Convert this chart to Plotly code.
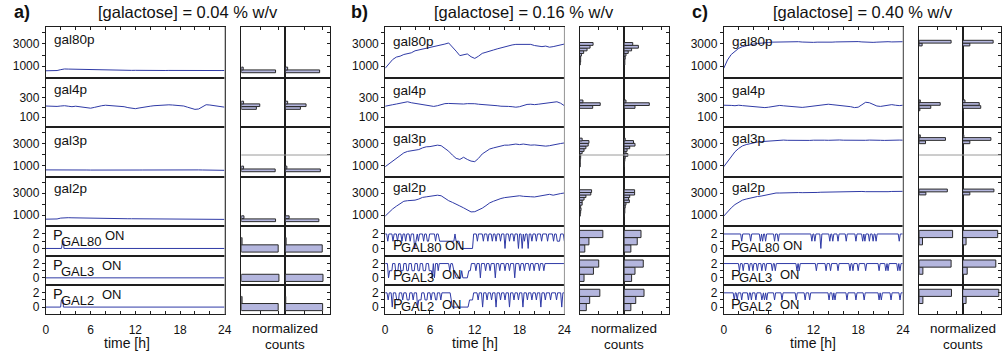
import plotly.graph_objects as go

# ---------------------------------------------------------------- data
# protein traces, sampled every 0.5 h from 0 to 24 h (49 values each)
A_GAL80P = [600, 595, 600, 620, 700, 760, 750, 740, 730, 720,
            715, 710, 700, 695, 690, 680, 675, 670, 660, 655,
            650, 645, 640, 635, 640, 630, 625, 630, 635, 630,
            625, 620, 625, 630, 625, 620, 615, 610, 615, 620,
            615, 610, 605, 600, 605, 610, 615, 620, 625]
A_GAL4P = [212, 210, 205, 208, 212, 215, 210, 205, 210, 206,
           200, 192, 190, 198, 208, 215, 220, 218, 214, 210,
           212, 205, 196, 188, 185, 192, 200, 205, 210, 215,
           218, 220, 222, 224, 222, 220, 218, 212, 200, 188,
           178, 182, 200, 225, 222, 215, 210, 205, 200]
A_GAL3P = [600, 605, 600, 610, 615, 620, 618, 612, 605, 600,
           595, 590, 585, 580, 578, 575, 580, 585, 590, 595,
           600, 602, 598, 595, 590, 588, 590, 595, 600, 605,
           608, 605, 600, 598, 595, 592, 590, 595, 600, 605,
           602, 598, 592, 585, 580, 575, 570, 565, 560]
A_GAL2P = [620, 615, 625, 640, 720, 760, 755, 745, 735, 725,
           720, 715, 705, 700, 690, 685, 680, 680, 675, 670,
           670, 665, 660, 660, 655, 650, 655, 660, 650, 645,
           640, 640, 645, 640, 635, 630, 630, 625, 630, 625,
           620, 615, 610, 605, 600, 600, 595, 600, 600]

B_GAL80P = [820, 1250, 1600, 1820, 1900, 2050, 2150, 2200, 2380, 2450,
            2550, 2650, 2700, 2780, 2850, 2900, 2980, 3080, 2750, 2350,
            1950, 2050, 2100, 1850, 1700, 1900, 2150, 2250, 2380, 2450,
            2550, 2650, 2700, 2780, 2900, 2950, 2950, 2920, 2900, 2950,
            2850, 2800, 2750, 2800, 2700, 2750, 2850, 2900, 2980]
B_GAL4P = [210, 220, 225, 232, 240, 248, 255, 245, 238, 230,
           225, 215, 210, 208, 215, 225, 236, 238, 235, 232,
           230, 232, 236, 238, 235, 230, 228, 222, 220, 218,
           215, 210, 212, 208, 205, 200, 205, 215, 228, 230,
           226, 230, 236, 240, 245, 250, 255, 240, 215]
B_GAL3P = [890, 1150, 1450, 1680, 1950, 2150, 2280, 2350, 2400, 2450,
           2600, 2700, 2720, 2780, 2850, 2800, 2550, 2300, 1950, 1650,
           1550, 1750, 1550, 1400, 1350, 1650, 2050, 2250, 2500, 2600,
           2700, 2780, 2850, 2850, 2900, 2950, 2900, 2950, 2900, 2850,
           2870, 2820, 2780, 2760, 2800, 2880, 2950, 3000, 3050]
B_GAL2P = [900, 1250, 1550, 1800, 2050, 2250, 2300, 2320, 2350, 2450,
           2600, 2650, 2700, 2720, 2800, 2750, 2500, 2300, 2150, 1950,
           1820, 1650, 1480, 1280, 1300, 1450, 1620, 1850, 2100, 2250,
           2400, 2500, 2580, 2620, 2680, 2720, 2750, 2700, 2650, 2660,
           2640, 2700, 2750, 2820, 2880, 2800, 2900, 2950, 3000]

C_GAL80P = [820, 1560, 2050, 2350, 2600, 2750, 2850, 2920, 2980, 3030,
            3080, 3100, 3120, 3150, 3160, 3180, 3190, 3170, 3160, 3180,
            3190, 3160, 3140, 3120, 3130, 3150, 3140, 3130, 3120, 3150,
            3170, 3180, 3200, 3220, 3240, 3230, 3200, 3170, 3140, 3120,
            3130, 3150, 3180, 3200, 3190, 3170, 3180, 3210, 3190]
C_GAL4P = [220, 222, 218, 215, 220, 216, 212, 210, 206, 202,
           198, 196, 200, 205, 215, 218, 214, 210, 205, 200,
           196, 198, 202, 206, 212, 218, 222, 226, 230, 226,
           222, 220, 218, 215, 205, 196, 200, 225, 250, 245,
           228, 212, 208, 215, 222, 226, 220, 216, 220]
C_GAL3P = [890, 1380, 1850, 2250, 2550, 2780, 2900, 3000, 3080, 3130,
           3170, 3200, 3230, 3260, 3280, 3300, 3310, 3290, 3280, 3300,
           3320, 3310, 3290, 3280, 3300, 3320, 3310, 3300, 3290, 3310,
           3330, 3320, 3300, 3290, 3310, 3320, 3300, 3280, 3290, 3310,
           3320, 3300, 3290, 3280, 3300, 3310, 3320, 3310, 3300]
C_GAL2P = [900, 1300, 1650, 1950, 2150, 2350, 2450, 2550, 2620, 2680,
           2720, 2800, 2850, 2950, 3000, 3000, 3020, 3030, 3010, 3020,
           3040, 3030, 3020, 3040, 3060, 3050, 3070, 3080, 3060, 3080,
           3100, 3120, 3140, 3150, 3170, 3180, 3160, 3140, 3120, 3110,
           3130, 3150, 3140, 3130, 3120, 3140, 3160, 3170, 3150]

# promoter states (number of ON promoters), panel a and b as (time, state) vertices
A_PGAL80 = [(0, 0), (2.1, 0), (2.25, 1), (2.4, 1), (2.42, 0), (24, 0)]
A_PGAL3 = [(0, 0), (24, 0)]
A_PGAL2 = [(0, 0), (1.98, 0), (2.08, 1), (2.32, 1), (2.35, 0), (24, 0)]

B_PGAL80 = [(0, 2), (0.2, 2), (0.35, 1), (0.5, 2), (0.9, 2), (1.05, 1), (1.2, 2), (1.5, 2), (1.65, 1), (1.8, 2),
            (2.1, 2), (2.25, 1), (2.4, 2), (2.6, 2), (2.75, 1), (2.9, 2), (3.2, 2), (3.35, 1), (3.5, 2), (3.8, 2),
            (3.95, 0), (4.1, 1), (4.3, 2), (4.45, 1), (4.6, 2), (5.0, 2), (5.15, 1), (5.3, 2), (5.5, 2), (5.65, 1),
            (5.8, 1), (5.95, 2), (6.6, 2), (6.75, 1), (6.9, 2), (7.1, 2), (7.3, 1), (9.2, 1), (9.35, 2), (9.5, 1),
            (9.9, 1), (10.1, 0), (11.7, 0), (11.85, 2), (12.2, 2), (12.35, 1), (12.5, 2), (13.0, 2), (13.15, 1),
            (13.3, 2), (13.6, 2), (13.75, 1), (13.9, 2), (14.2, 2), (14.35, 1), (14.5, 2), (14.7, 2), (14.85, 1),
            (15.0, 2), (15.3, 2), (15.45, 1), (15.6, 2), (15.9, 2), (16.05, 0), (16.2, 2), (16.5, 2), (16.65, 1),
            (16.8, 2), (17.1, 2), (17.25, 1), (17.4, 2), (17.7, 2), (17.85, 0), (18.0, 2), (18.2, 2), (18.35, 0),
            (18.5, 2), (18.65, 1), (18.8, 2), (19.0, 2), (19.15, 0), (19.3, 2), (19.5, 2), (19.65, 1), (19.8, 2),
            (20.1, 2), (20.25, 1), (20.4, 2), (20.8, 2), (20.95, 1), (21.1, 2), (21.6, 2), (21.75, 1), (21.9, 2),
            (22.4, 2), (22.55, 1), (22.7, 2), (22.9, 2), (23.05, 1), (23.35, 1), (23.5, 2), (23.85, 2), (24, 1)]
B_PGAL3 = [(0, 2), (0.3, 2), (0.45, 0), (0.6, 1), (0.9, 1), (1.0, 2), (1.3, 2), (1.4, 1), (1.7, 1), (1.8, 2),
           (2.0, 2), (2.1, 1), (2.4, 1), (2.5, 2), (2.8, 2), (2.9, 1), (3.1, 1), (3.2, 2), (3.5, 2), (3.6, 1),
           (3.9, 1), (4.0, 2), (4.3, 2), (4.4, 1), (4.6, 1), (4.7, 2), (5.0, 2), (5.1, 1), (5.4, 1), (5.5, 2),
           (5.8, 2), (5.9, 1), (6.2, 1), (6.3, 0), (6.45, 2), (6.6, 0), (6.75, 2), (7.0, 2), (7.1, 1), (7.25, 2),
           (8.5, 2), (8.65, 1), (8.8, 2), (9.0, 2), (9.2, 1), (9.5, 0), (10.1, 0), (10.25, 1), (10.4, 0), (11.0, 0),
           (11.2, 1), (11.4, 1), (11.55, 2), (12.0, 2), (12.15, 1), (12.3, 2), (12.6, 2), (12.75, 0), (12.9, 2),
           (13.3, 2), (13.45, 1), (13.6, 2), (13.9, 2), (14.05, 1), (14.2, 2), (14.6, 2), (14.75, 0), (14.9, 2),
           (15.2, 2), (15.35, 1), (15.5, 2), (15.9, 2), (16.05, 1), (16.2, 2), (16.5, 2), (16.65, 1), (16.8, 2),
           (17.2, 2), (17.35, 0), (17.5, 2), (17.9, 2), (18.05, 1), (18.2, 2), (18.5, 2), (18.65, 1), (18.8, 2),
           (19.2, 2), (19.35, 1), (19.5, 2), (19.8, 2), (19.95, 1), (20.1, 2), (20.5, 2), (20.65, 1), (20.8, 2),
           (21.1, 2), (21.25, 1), (21.4, 2), (24, 2)]
B_PGAL2 = [(0, 2), (0.25, 2), (0.4, 1), (0.55, 2), (0.8, 2), (0.95, 0), (1.1, 2), (1.4, 2), (1.55, 1), (1.8, 1),
           (1.9, 2), (2.2, 2), (2.35, 1), (2.5, 2), (2.8, 2), (2.95, 1), (3.2, 1), (3.3, 2), (3.6, 2), (3.75, 1),
           (3.9, 2), (4.2, 2), (4.35, 0), (4.5, 1), (4.8, 1), (4.9, 2), (5.2, 2), (5.35, 1), (5.6, 1), (5.7, 2),
           (6.0, 2), (6.15, 1), (6.3, 2), (6.6, 2), (6.75, 1), (6.9, 1), (7.0, 2), (7.3, 2), (7.45, 1), (7.6, 2),
           (8.7, 2), (8.85, 1), (9.0, 0), (11.1, 0), (11.3, 1), (11.7, 1), (11.85, 2), (12.3, 2), (12.45, 1),
           (12.6, 2), (12.9, 2), (13.05, 0), (13.2, 2), (13.5, 2), (13.65, 1), (13.8, 2), (14.1, 2), (14.25, 1),
           (14.4, 2), (14.7, 2), (14.85, 0), (15.0, 2), (15.3, 2), (15.45, 1), (15.6, 2), (15.9, 2), (16.05, 1),
           (16.2, 2), (16.5, 2), (16.65, 0), (16.8, 2), (17.1, 2), (17.25, 1), (17.4, 2), (17.7, 2), (17.85, 1),
           (18.0, 2), (18.3, 2), (18.45, 0), (18.6, 2), (18.9, 2), (19.05, 1), (19.2, 2), (19.5, 2), (19.65, 1),
           (19.8, 2), (20.1, 2), (20.25, 1), (20.4, 2), (20.7, 2), (20.85, 0), (21.0, 2), (21.3, 2), (21.45, 1),
           (21.6, 2), (22.0, 2), (22.15, 1), (22.3, 2), (22.8, 2), (22.95, 1), (23.1, 2), (23.5, 2), (23.65, 0),
           (23.8, 2), (24, 2)]

# panel c: promoters stay at 2 with short dips (time [h], level reached)
C_PGAL80_DIPS = [2.4, 3.6, 4.9, 5.2, 5.6, 6.8, 7.3, 11.8, 12.2, 13.0, 14.2, 14.6, 15.3, 16.4, 17.7,
                 18.6, 18.9, 19.5, 20.0, 20.4, 23.5]
C_PGAL80_DEPTH = [1, 1, 1, 1, 1, 1, 1, 1, 1, 0, 1, 1, 1, 1, 1, 1, 1, 1, 1, 1, 1]
C_PGAL3_DIPS = [2.1, 2.6, 3.4, 3.9, 4.5, 5.1, 5.6, 6.5, 6.9, 9.8, 10.1, 12.4, 13.7, 14.3, 15.3, 16.9,
                17.3, 18.0, 19.0, 20.8, 21.7, 22.0, 23.3, 23.6]
C_PGAL3_DEPTH = [1] * 24
C_PGAL2_DIPS = [1.4, 1.8, 2.4, 3.3, 3.7, 4.3, 5.1, 5.45, 5.75, 6.8, 7.8, 9.7, 10.9, 11.5, 14.1, 14.6,
                14.9, 16.5, 17.7, 18.8, 20.8, 21.1, 22.4, 23.6]
C_PGAL2_DEPTH = [1] * 24

# histograms: bin centres and normalized counts (left column H1, right column H2)
A_GAL80P_HY, A_GAL80P_H1, A_GAL80P_H2 = [550, 800], [0.91, 0.05], [0.91, 0.06]
A_GAL4P_HY, A_GAL4P_H1, A_GAL4P_H2 = [192, 220, 247], [0.40, 0.49, 0.06], [0.40, 0.55, 0.06]
A_GAL3P_HY, A_GAL3P_H1, A_GAL3P_H2 = [560, 820], [0.90, 0.06], [0.93, 0.04]
A_GAL2P_HY, A_GAL2P_H1, A_GAL2P_H2 = [520, 800], [0.91, 0.07], [0.89, 0.10]

B_GAL80P_HY = [1240, 1490, 1750, 2030, 2270, 2500, 2740, 2990]
B_GAL80P_H1 = [0.02, 0.03, 0.03, 0.05, 0.11, 0.20, 0.28, 0.36]
B_GAL80P_H2 = [0.02, 0.02, 0.03, 0.05, 0.11, 0.20, 0.38, 0.23]
B_GAL4P_HY, B_GAL4P_H1, B_GAL4P_H2 = [202, 231, 259], [0.35, 0.55, 0.09], [0.29, 0.67, 0.05]
B_GAL3P_HY = [1000, 1250, 1500, 1750, 1960, 2200, 2410, 2650, 2890, 3140, 3360]
B_GAL3P_H1 = [0.02, 0.02, 0.02, 0.03, 0.03, 0.07, 0.12, 0.17, 0.23, 0.25, 0.07]
B_GAL3P_H2 = [0.01, 0.01, 0.02, 0.03, 0.10, 0.05, 0.08, 0.15, 0.29, 0.25, 0.03]
B_GAL2P_HY = [1020, 1270, 1520, 1770, 2020, 2250, 2480, 2710, 2940, 3170]
B_GAL2P_H1 = [0.02, 0.03, 0.04, 0.03, 0.07, 0.07, 0.12, 0.17, 0.30, 0.32]
B_GAL2P_H2 = [0.01, 0.02, 0.02, 0.03, 0.05, 0.14, 0.12, 0.15, 0.28, 0.28]

C_GAL80P_HY, C_GAL80P_H1, C_GAL80P_H2 = [2940, 3190], [0.08, 0.85], [0.19, 0.81]
C_GAL4P_HY, C_GAL4P_H1, C_GAL4P_H2 = [177, 202, 233, 260], [0.02, 0.31, 0.56, 0.03], [0.02, 0.48, 0.44, 0.06]
C_GAL3P_HY, C_GAL3P_H1, C_GAL3P_H2 = [3110, 3410, 3660], [0.17, 0.70, 0.03], [0.19, 0.75, 0.03]
C_GAL2P_HY, C_GAL2P_H1, C_GAL2P_H2 = [2950, 3230], [0.18, 0.75], [0.19, 0.83]

PROM_LEVELS = [0, 1, 2]
A_PGAL80_H1, A_PGAL80_H2 = [0.98, 0.02, 0], [0.98, 0.02, 0]
A_PGAL3_H1, A_PGAL3_H2 = [1.0, 0, 0], [1.0, 0, 0]
A_PGAL2_H1, A_PGAL2_H2 = [0.98, 0.02, 0], [0.99, 0.01, 0]
B_PGAL80_H1, B_PGAL80_H2 = [0.14, 0.25, 0.62], [0.18, 0.35, 0.45]
B_PGAL3_H1, B_PGAL3_H2 = [0.12, 0.37, 0.51], [0.20, 0.29, 0.51]
B_PGAL2_H1, B_PGAL2_H2 = [0.18, 0.27, 0.54], [0.18, 0.31, 0.53]
C_PGAL80_H1, C_PGAL80_H2 = [0, 0.09, 0.89], [0, 0.09, 0.93]
C_PGAL3_H1, C_PGAL3_H2 = [0, 0.10, 0.85], [0.01, 0.12, 0.88]
C_PGAL2_H1, C_PGAL2_H2 = [0, 0.10, 0.86], [0, 0.09, 0.96]

TITLES = ["[galactose] = 0.04 % w/v", "[galactose] = 0.16 % w/v", "[galactose] = 0.40 % w/v"]
PANEL_LETTERS = ["a)", "b)", "c)"]
PROTEINS = ["gal80p", "gal4p", "gal3p", "gal2p"]
PROMOTERS = ["GAL80", "GAL3", "GAL2"]
TIME_TICKS = [0, 6, 12, 18, 24]
SAMPLE_STEP_H = 0.5

# ---------------------------------------------------------------- style / layout
FONT = "Liberation Sans, Arial, Helvetica, sans-serif"
LINE_BLUE = "#2f3aa6"
BAR_FILL = "#b4b6de"
BAR_EDGE = "#2a2a2a"
FRAME = "#1e1e1e"
TXT = "#111111"

W, H = 1008, 356
ROW_EDGES = [27, 77.5, 127, 176.5, 226, 255.7, 285, 314.2]
PANEL_X = [(43.3, 224.0, 240.7, 285.2, 330.0),
           (386.0, 567.0, 582.3, 627.3, 672.3),
           (728.0, 909.0, 925.3, 969.3, 1013.3)]
HIST_PX_PER_UNIT = 38.0
TITLE_X = [186.7, 526.7, 868.3]
LETTER_X = [19, 360, 704]
TIMELABEL_X = [125, 476.5, 818.5]


def steps_from_dips(dips, depth, hw=0.14):
    t, s = [0.0], [2]
    for d, v in zip(dips, depth):
        t += [d - hw, d, d + hw]
        s += [2, v, 2]
    t.append(24.0)
    s.append(2)
    return t, s


def grid(vals):
    return [i * SAMPLE_STEP_H for i in range(len(vals))]


def unzip(pairs):
    return [p[0] for p in pairs], [p[1] for p in pairs]


panels = []
for P, PR, hists in [
    ((A_GAL80P, A_GAL4P, A_GAL3P, A_GAL2P),
     (unzip(A_PGAL80), unzip(A_PGAL3), unzip(A_PGAL2)),
     [(A_GAL80P_HY, A_GAL80P_H1, A_GAL80P_H2), (A_GAL4P_HY, A_GAL4P_H1, A_GAL4P_H2),
      (A_GAL3P_HY, A_GAL3P_H1, A_GAL3P_H2), (A_GAL2P_HY, A_GAL2P_H1, A_GAL2P_H2),
      (PROM_LEVELS, A_PGAL80_H1, A_PGAL80_H2), (PROM_LEVELS, A_PGAL3_H1, A_PGAL3_H2),
      (PROM_LEVELS, A_PGAL2_H1, A_PGAL2_H2)]),
    ((B_GAL80P, B_GAL4P, B_GAL3P, B_GAL2P),
     (unzip(B_PGAL80), unzip(B_PGAL3), unzip(B_PGAL2)),
     [(B_GAL80P_HY, B_GAL80P_H1, B_GAL80P_H2), (B_GAL4P_HY, B_GAL4P_H1, B_GAL4P_H2),
      (B_GAL3P_HY, B_GAL3P_H1, B_GAL3P_H2), (B_GAL2P_HY, B_GAL2P_H1, B_GAL2P_H2),
      (PROM_LEVELS, B_PGAL80_H1, B_PGAL80_H2), (PROM_LEVELS, B_PGAL3_H1, B_PGAL3_H2),
      (PROM_LEVELS, B_PGAL2_H1, B_PGAL2_H2)]),
    ((C_GAL80P, C_GAL4P, C_GAL3P, C_GAL2P),
     (steps_from_dips(C_PGAL80_DIPS, C_PGAL80_DEPTH), steps_from_dips(C_PGAL3_DIPS, C_PGAL3_DEPTH),
      steps_from_dips(C_PGAL2_DIPS, C_PGAL2_DEPTH)),
     [(C_GAL80P_HY, C_GAL80P_H1, C_GAL80P_H2), (C_GAL4P_HY, C_GAL4P_H1, C_GAL4P_H2),
      (C_GAL3P_HY, C_GAL3P_H1, C_GAL3P_H2), (C_GAL2P_HY, C_GAL2P_H1, C_GAL2P_H2),
      (PROM_LEVELS, C_PGAL80_H1, C_PGAL80_H2), (PROM_LEVELS, C_PGAL3_H1, C_PGAL3_H2),
      (PROM_LEVELS, C_PGAL2_H1, C_PGAL2_H2)]),
]:
    series = [(grid(v), v) for v in P] + list(PR)
    panels.append((series, hists))

Y_CFG = {
    "prot": dict(range=[0, 4500], tickvals=[1000, 2000, 3000, 4000], ticktext=["1000", "", "3000", ""]),
    "gal4": dict(range=[0, 500], tickvals=[100, 200, 300, 400], ticktext=["100", "", "300", ""]),
    "prom": dict(range=[-1.0, 3.1], tickvals=[0, 1, 2], ticktext=["0", "", "2"]),
}
ROW_KIND = ["prot", "gal4", "prot", "prot", "prom", "prom", "prom"]
BIN_W = {"prot": 250, "gal4": 27, "prom": 1.0}

AX_BASE = dict(showgrid=False, zeroline=False, showline=True, linecolor=FRAME, linewidth=1,
               mirror=True, tickcolor=FRAME, tickfont=dict(size=12, color=TXT, family=FONT),
               fixedrange=True)

fig = go.Figure()
layout = {}
annotations = []
shapes = []
n_ax = 0


def add_axes(x0, x1, y0, y1, xcfg, ycfg):
    global n_ax
    n_ax += 1
    s = "" if n_ax == 1 else str(n_ax)
    layout["xaxis" + s] = {**AX_BASE, "domain": [x0 / W, min(1.0, x1 / W)], "anchor": "y" + s, **xcfg}
    layout["yaxis" + s] = {**AX_BASE, "domain": [1 - y1 / H, 1 - y0 / H], "anchor": "x" + s, **ycfg}
    return "x" + s, "y" + s


def ann(x, y, text, size, xanchor="left", bold=False):
    annotations.append(dict(x=x / W, y=1 - y / H, xref="paper", yref="paper", text=text,
                            showarrow=False, xanchor=xanchor, yanchor="middle",
                            font=dict(size=size, color=TXT, family=FONT)))


time_tickvals = list(range(0, 25, 2))
time_ticktext = [str(v) if v in TIME_TICKS else "" for v in time_tickvals]

for pi, (series, hists) in enumerate(panels):
    ts0, ts1, h10, h11, h21 = PANEL_X[pi]
    for r in range(7):
        y0, y1 = ROW_EDGES[r], ROW_EDGES[r + 1]
        kind = ROW_KIND[r]
        # time-series axis
        xc = dict(range=[0, 24], ticks="", showticklabels=False)
        if r == 0:
            xc = dict(range=[0, 24], side="top", ticks="inside", ticklen=3,
                      tickvals=time_tickvals, showticklabels=False)
        if r == 6:
            xc = dict(range=[0, 24], side="bottom", ticks="inside", ticklen=3,
                      tickvals=time_tickvals, ticktext=time_ticktext, ticklabelstandoff=4)
        yc = dict(ticks="outside", ticklen=3, **Y_CFG[kind])
        xr, yr = add_axes(ts0, ts1, y0, y1, xc, yc)
        t, v = series[r]
        fig.add_trace(go.Scatter(x=t, y=v, mode="lines", line=dict(color=LINE_BLUE, width=1),
                                 xaxis=xr, yaxis=yr, hoverinfo="skip", showlegend=False))
        # histogram columns
        hy, hl, hr = hists[r]
        for ci, (c0, c1, vals) in enumerate([(h10, h11, hl), (h11, h21, hr)]):
            xmax = (c1 - c0) / HIST_PX_PER_UNIT
            if c1 > W:
                xmax = (W - c0) / HIST_PX_PER_UNIT
            hx = dict(range=[0, xmax], ticks="", showticklabels=False)
            if r == 0:
                hx = dict(range=[0, xmax], side="top", ticks="inside", ticklen=3,
                          tickvals=[0.5, 1.0], showticklabels=False)
            if r == 6:
                hx = dict(range=[0, xmax], side="bottom", ticks="inside", ticklen=3,
                          tickvals=[0.5, 1.0], showticklabels=False)
            hyc = dict(showticklabels=False, ticks="", **Y_CFG[kind])
            if ci == 1:
                hyc = dict(showticklabels=False, ticks="inside", ticklen=3, side="right", **Y_CFG[kind])
            xr2, yr2 = add_axes(c0, c1, y0, y1, hx, hyc)
            yy = [a for a, b in zip(hy, vals) if b > 0]
            xx = [b for b in vals if b > 0]
            fig.add_trace(go.Bar(x=xx, y=yy, orientation="h", width=BIN_W[kind],
                                 marker=dict(color=BAR_FILL, line=dict(color=BAR_EDGE, width=1)),
                                 xaxis=xr2, yaxis=yr2, hoverinfo="skip", showlegend=False))

    # grey guide line in the gal3p histograms and light right edge of the time plot
    shapes.append(dict(type="line", xref="paper", yref="paper", x0=h10 / W, x1=min(1.0, h21 / W),
                       y0=1 - 155 / H, y1=1 - 155 / H, line=dict(color="#9a9a9a", width=1), layer="above"))
    shapes.append(dict(type="line", xref="paper", yref="paper", x0=ts1 / W, x1=ts1 / W,
                       y0=1 - ROW_EDGES[0] / H, y1=1 - ROW_EDGES[-1] / H,
                       line=dict(color="#b0b0b0", width=1), layer="above"))

    # text
    ann(LETTER_X[pi], 12, "<b>" + PANEL_LETTERS[pi] + "</b>", 18, xanchor="center")
    ann(TITLE_X[pi], 12, TITLES[pi], 16.5, xanchor="center")
    prot_off = [12.5, 11.5, 13, 12] if pi == 0 else [15, 12.5, 11.5, 11]
    for r, name in enumerate(PROTEINS):
        ann(ts0 + 6, ROW_EDGES[r] + prot_off[r], name, 13.5)
    p_off, g_off, o_off = (9, 15.5, 9.5) if pi == 0 else (19, 21.5, 19)
    for k, name in enumerate(PROMOTERS):
        top = ROW_EDGES[4 + k]
        ann(ts0 + 5.5, top + p_off, "P", 14.5)
        ann(ts0 + 13.5, top + g_off, name, 13)
        ann(ts0 + (58 if name == "GAL80" else 55), top + o_off, "ON", 13)
    ann(TIMELABEL_X[pi], 343, "time [h]", 14, xanchor="center")
    ann(h11, 328, "normalized", 13.5, xanchor="center")
    ann(h11, 344, "counts", 13.5, xanchor="center")

fig.update_layout(width=W, height=H, margin=dict(l=0, r=0, t=0, b=0, pad=0),
                  paper_bgcolor="white", plot_bgcolor="white", showlegend=False,
                  font=dict(family=FONT, size=12, color=TXT),
                  annotations=annotations, shapes=shapes, **layout)

fig.write_html("out.html", config={"displayModeBar": False},
               post_script="document.body.style.margin='0';document.body.style.overflow='hidden';")
